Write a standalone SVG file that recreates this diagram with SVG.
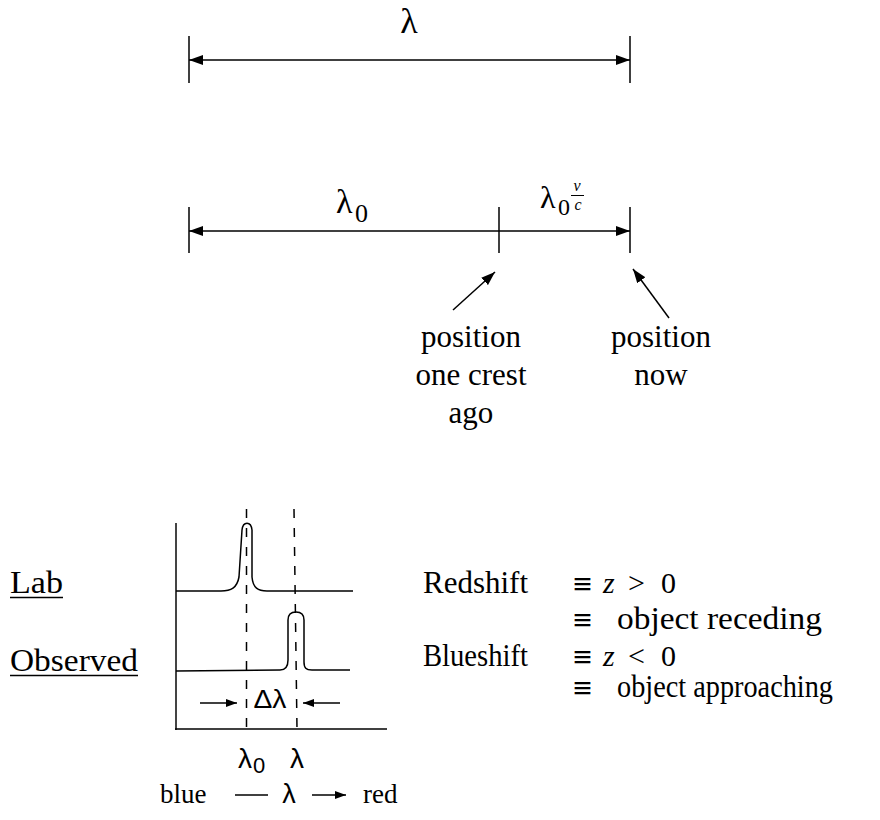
<svg xmlns="http://www.w3.org/2000/svg" width="880" height="820" viewBox="0 0 880 820">
<style>
.ln{stroke:#000;stroke-width:1.5;fill:none}
.ax{stroke:#444;stroke-width:2;fill:none}
.ds{stroke:#000;stroke-width:1.5;fill:none;stroke-dasharray:9 10}
.sr{font-family:"Liberation Serif","Times New Roman",serif;fill:#000}
.ss{font-family:"Liberation Sans",Arial,sans-serif;fill:#000}
.eq{font-family:"DejaVu Serif","Liberation Serif",serif;fill:#000;font-size:28px}
</style>
<defs>
<marker id="ah" viewBox="0 0 14 10" refX="14" refY="5" markerWidth="14" markerHeight="10" markerUnits="userSpaceOnUse" orient="auto-start-reverse"><path d="M0,0 L14,5 L0,10 z" fill="#000"/></marker>
<marker id="as" viewBox="0 0 11 8" refX="11" refY="4" markerWidth="11" markerHeight="8" markerUnits="userSpaceOnUse" orient="auto-start-reverse"><path d="M0,0 L11,4 L0,8 z" fill="#000"/></marker>
</defs>
<rect width="880" height="820" fill="#fff"/>

<g id="connectors">
<line class="ln" x1="189" y1="60" x2="630" y2="60" marker-start="url(#ah)" marker-end="url(#ah)"/>
<line class="ln" x1="189" y1="231" x2="630" y2="231" marker-start="url(#ah)" marker-end="url(#ah)"/>
<line class="ln" x1="453" y1="310" x2="495" y2="272" marker-end="url(#ah)"/>
<line class="ln" x1="669" y1="318" x2="633" y2="269" marker-end="url(#ah)"/>
<line class="ln" x1="200" y1="703" x2="237" y2="703" marker-end="url(#as)"/>
<line class="ln" x1="340" y1="703" x2="303" y2="703" marker-end="url(#as)"/>
<line class="ln" x1="235" y1="795" x2="268" y2="795"/>
<line class="ln" x1="312" y1="795" x2="346" y2="795" marker-end="url(#as)"/>
</g>

<g id="top-ruler">
<line class="ln" x1="189" y1="36" x2="189" y2="83"/>
<line class="ln" x1="630" y1="36" x2="630" y2="83"/>
<text class="sr" x="409" y="33" font-size="36" text-anchor="middle">λ</text>
</g>

<g id="second-ruler">
<line class="ln" x1="189" y1="207" x2="189" y2="253"/>
<line class="ln" x1="499" y1="207" x2="499" y2="253"/>
<line class="ln" x1="630" y1="207" x2="630" y2="253"/>
<text class="sr" x="336" y="213" font-size="34">λ</text>
<text class="sr" x="355" y="222" font-size="26">0</text>
<text class="sr" x="540" y="208" font-size="32">λ</text>
<text class="sr" x="558" y="215" font-size="24">0</text>
<text class="sr" x="577" y="191" font-size="16" font-style="italic" text-anchor="middle">v</text>
<line x1="571" y1="195.5" x2="584" y2="195.5" stroke="#000" stroke-width="1"/>
<text class="sr" x="578" y="210" font-size="16" font-style="italic" text-anchor="middle">c</text>
</g>

<g id="label-crest">
<text class="sr" x="471" y="347" font-size="31" text-anchor="middle">position</text>
<text class="sr" x="471" y="385" font-size="31" text-anchor="middle">one crest</text>
<text class="sr" x="471" y="423" font-size="31" text-anchor="middle">ago</text>
</g>

<g id="label-now">
<text class="sr" x="661" y="347" font-size="31" text-anchor="middle">position</text>
<text class="sr" x="661" y="385" font-size="31" text-anchor="middle">now</text>
</g>

<g id="spectrum">
<line class="ax" x1="176" y1="523" x2="176" y2="730"/>
<line class="ln" x1="175" y1="729" x2="387" y2="729"/>
<line class="ds" x1="246.5" y1="509" x2="246.5" y2="729"/>
<line class="ds" x1="294" y1="509" x2="297" y2="729"/>
<path class="ln" d="M176,591 H221 C231,591 237,588 239,577 L242,530 C243,521 251,521 252,530 L252,577 C253,588 258,591 267,591 H353"/>
<path class="ln" d="M176,671 L280,670 C285,670 288,667 288,660 L288,620 C288,614 292,612 296,612 C300,612 304,614 304,620 L304,662 C304,668 306,670 312,670 H350"/>
<text class="ss" x="270" y="708" font-size="25" text-anchor="middle" textLength="33" lengthAdjust="spacingAndGlyphs">Δλ</text>
<text class="ss" x="238" y="768" font-size="28">λ</text>
<text class="ss" x="253" y="773" font-size="22">0</text>
<text class="ss" x="290" y="768" font-size="28">λ</text>
</g>

<g id="axis-caption">
<text class="sr" x="160" y="803" font-size="27">blue</text>
<text class="ss" x="289" y="803" font-size="27" text-anchor="middle">λ</text>
<text class="sr" x="363" y="803" font-size="27">red</text>
</g>

<g id="row-labels">
<text class="sr" x="10" y="593" font-size="31" textLength="53" lengthAdjust="spacingAndGlyphs">Lab</text>
<line x1="10" y1="597.5" x2="63" y2="597.5" stroke="#000" stroke-width="1.5"/>
<text class="sr" x="10" y="671" font-size="31" textLength="128" lengthAdjust="spacingAndGlyphs">Observed</text>
<line x1="10" y1="675.5" x2="138" y2="675.5" stroke="#000" stroke-width="1.5"/>
</g>

<g id="definitions">
<text class="sr" x="423" y="593" font-size="31" textLength="105" lengthAdjust="spacingAndGlyphs">Redshift</text>
<text class="eq" x="572" y="593" textLength="21" lengthAdjust="spacingAndGlyphs">≡</text>
<text class="sr" x="603" y="593" font-size="30" font-style="italic">z</text>
<text class="sr" x="628" y="593" font-size="30">&gt;</text>
<text class="sr" x="661" y="593" font-size="30">0</text>
<text class="eq" x="572" y="629" textLength="21" lengthAdjust="spacingAndGlyphs">≡</text>
<text class="sr" x="617" y="629" font-size="31" textLength="205" lengthAdjust="spacingAndGlyphs">object receding</text>
<text class="sr" x="423" y="666" font-size="31" textLength="105" lengthAdjust="spacingAndGlyphs">Blueshift</text>
<text class="eq" x="572" y="666" textLength="21" lengthAdjust="spacingAndGlyphs">≡</text>
<text class="sr" x="603" y="666" font-size="30" font-style="italic">z</text>
<text class="sr" x="628" y="666" font-size="30">&lt;</text>
<text class="sr" x="661" y="666" font-size="30">0</text>
<text class="eq" x="572" y="697" textLength="21" lengthAdjust="spacingAndGlyphs">≡</text>
<text class="sr" x="617" y="697" font-size="31" textLength="216" lengthAdjust="spacingAndGlyphs">object approaching</text>
</g>
</svg>
